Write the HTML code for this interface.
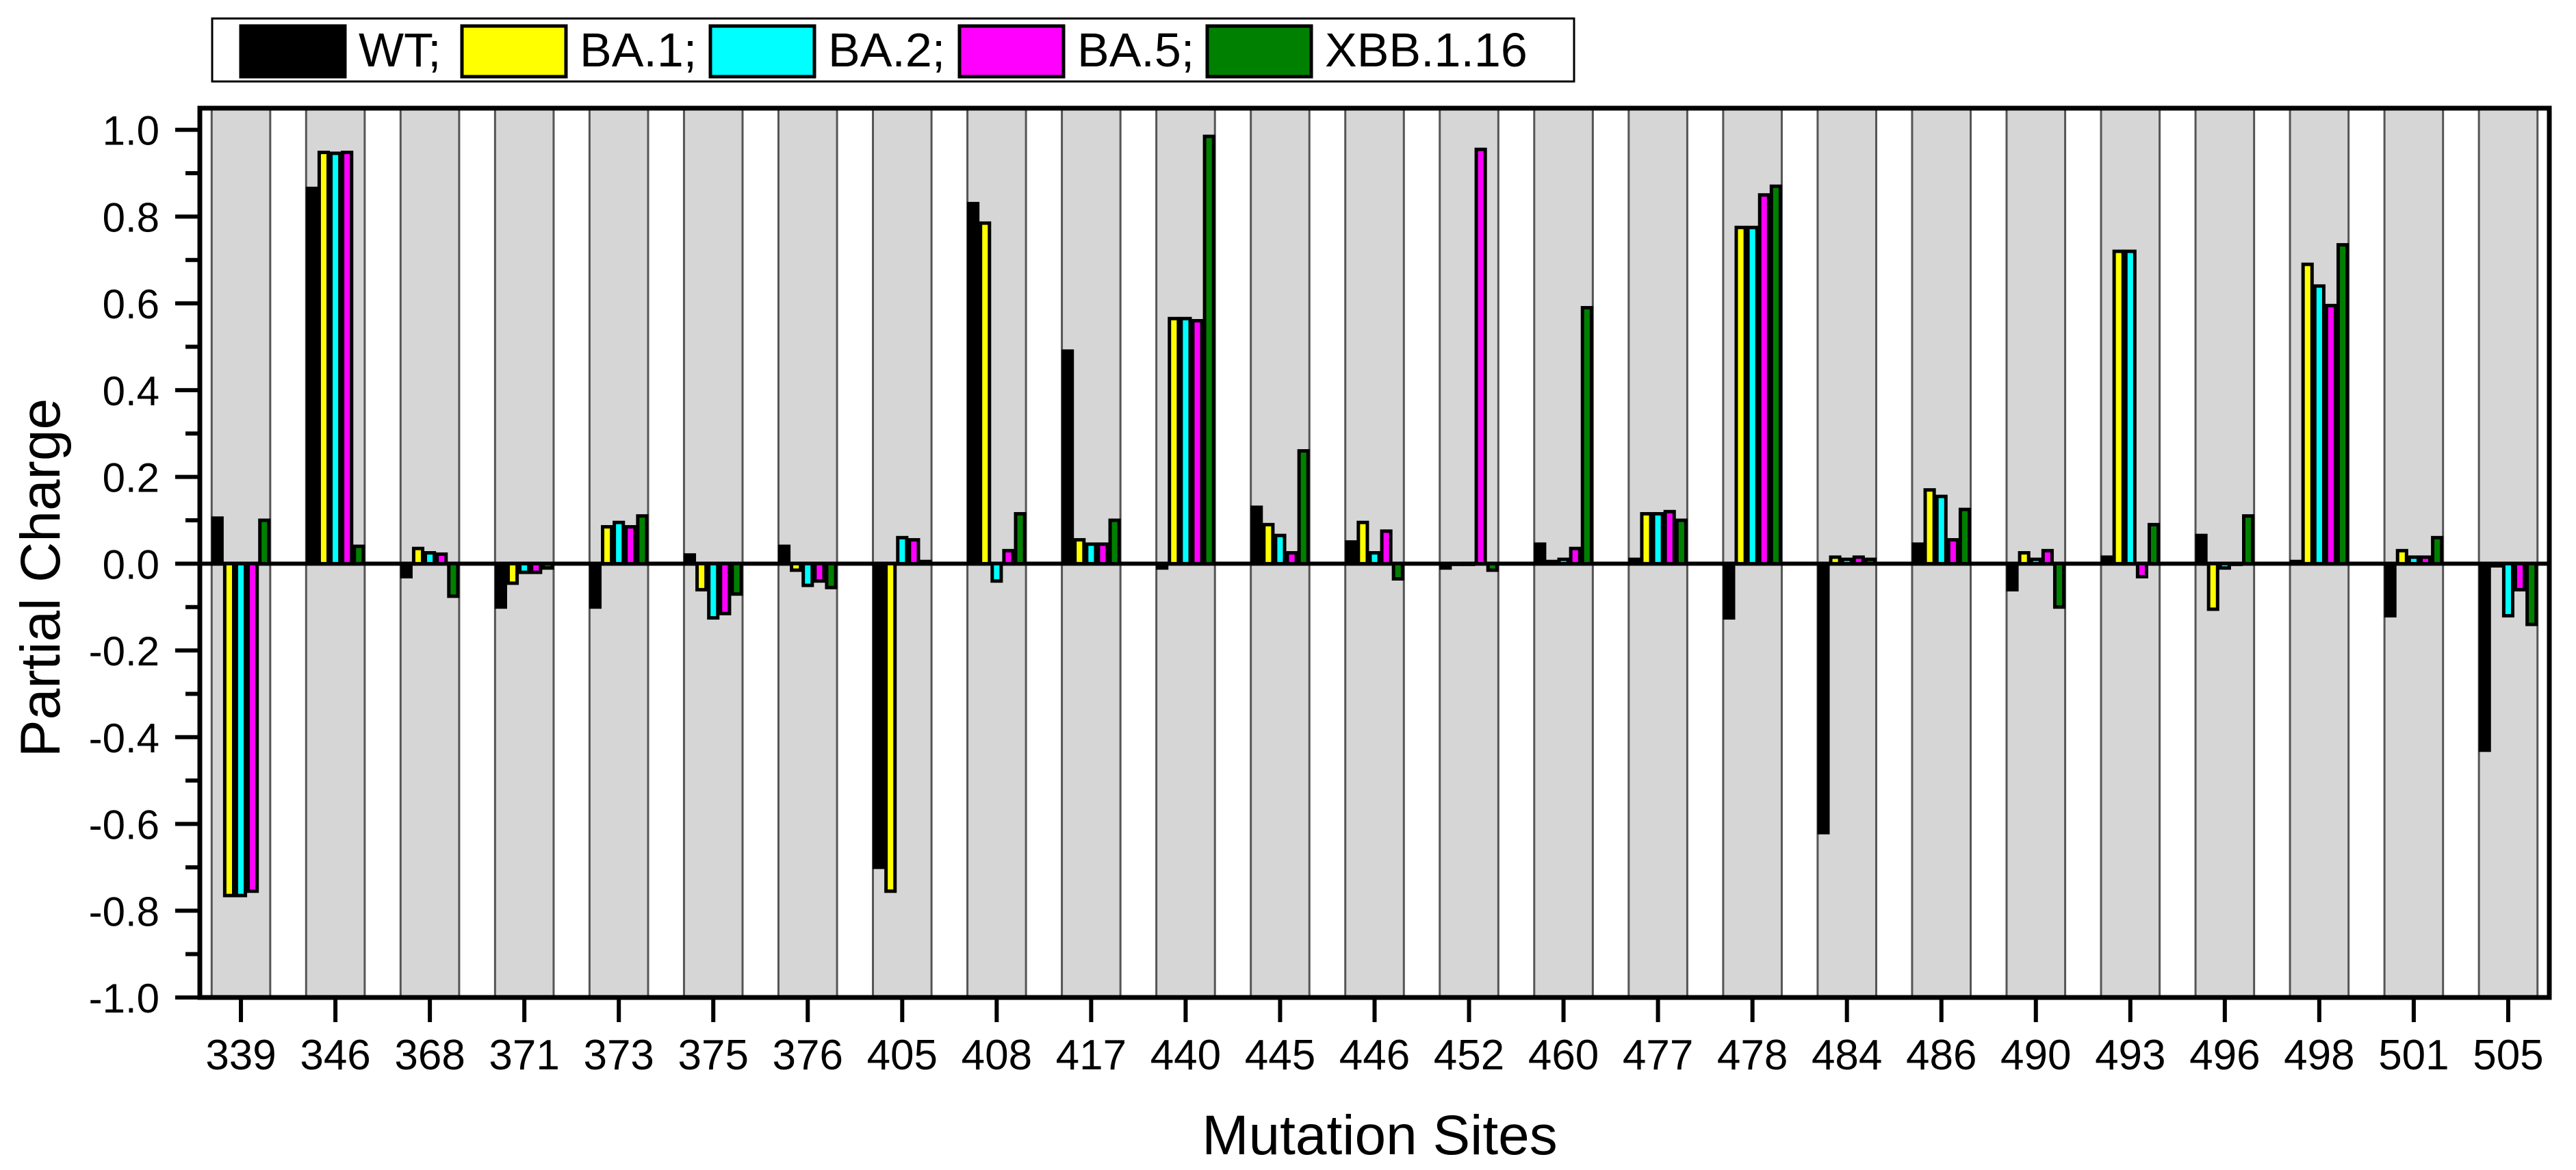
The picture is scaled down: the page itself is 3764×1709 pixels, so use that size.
<!DOCTYPE html>
<html><head><meta charset="utf-8">
<style>
html,body{margin:0;padding:0;background:#fff;}
svg{display:block;font-family:"Liberation Sans",Arial,sans-serif;}
</style></head>
<body>
<svg id="chart" width="3764" height="1709" viewBox="0 0 3764 1709" xmlns="http://www.w3.org/2000/svg"></svg>
<script>
const categories = ["339","346","368","371","373","375","376","405","408","417","440","445","446","452","460","477","478","484","486","490","493","496","498","501","505"];
const seriesNames = ["WT;","BA.1;","BA.2;","BA.5;","XBB.1.16"];
const wt   = [0.105,0.865,-0.03,-0.10,-0.10,0.02,0.04,-0.70,0.83,0.49,-0.01,0.13,0.05,-0.01,0.045,0.01,-0.125,-0.62,0.045,-0.06,0.015,0.065,0.005,-0.12,-0.43];
const ba1  = [-0.765,0.948,0.035,-0.045,0.085,-0.06,-0.015,-0.755,0.785,0.055,0.565,0.09,0.095,0.0,0.005,0.115,0.775,0.015,0.17,0.025,0.72,-0.105,0.69,0.03,-0.005];
const ba2  = [-0.765,0.946,0.025,-0.02,0.095,-0.125,-0.05,0.06,-0.04,0.045,0.565,0.065,0.025,0.0,0.01,0.115,0.775,0.01,0.155,0.01,0.72,-0.01,0.64,0.015,-0.12];
const ba5  = [-0.755,0.948,0.022,-0.02,0.085,-0.115,-0.04,0.055,0.03,0.045,0.56,0.025,0.075,0.955,0.035,0.12,0.85,0.015,0.055,0.03,-0.03,0.0,0.595,0.015,-0.06];
const xbb  = [0.10,0.04,-0.075,-0.01,0.11,-0.07,-0.055,0.005,0.115,0.10,0.985,0.26,-0.035,-0.015,0.59,0.10,0.87,0.01,0.125,-0.10,0.09,0.11,0.735,0.06,-0.14];
const yTicks = ["-1.0","-0.8","-0.6","-0.4","-0.2","0.0","0.2","0.4","0.6","0.8","1.0"];
const colors = ["#000000","#ffff00","#00ffff","#ff00ff","#008000"];

const NS="http://www.w3.org/2000/svg";
const svg=document.getElementById('chart');
function mk(tag,attrs,parent){const e=document.createElementNS(NS,tag);for(const k in attrs)e.setAttribute(k,attrs[k]);(parent||svg).appendChild(e);return e;}

const L=292,R=3725,T=158,B=1457;
const yMin=-1,yMax=1.05;
const n=categories.length;
const step=(R-L)/(n-0.13);
const x0=L+step*0.435;
function xc(i){return x0+i*step;}
function y(v){return B-(v-yMin)/(yMax-yMin)*(B-T);}
const bandW=step*0.62;

for(let i=0;i<n;i++){
  const r=mk('rect',{x:xc(i)-bandW/2,y:T,width:bandW,height:B-T,fill:'#d6d6d6',stroke:'#555',"stroke-width":3});
  
  
}
const zl=mk('line',{x1:L,x2:R,y1:y(0),y2:y(0),stroke:'#000',"stroke-width":6});



const series=[wt,ba1,ba2,ba5,xbb];
const bw=bandW/5;
for(let s=0;s<5;s++){
  for(let i=0;i<n;i++){
    const v=series[s][i];
    const bx=xc(i)-bandW/2+s*bw;
    const y1=Math.min(y(v),y(0)),h=Math.max(Math.abs(y(v)-y(0)),1);
    const r=mk('rect',{x:bx+2,y:y1,width:bw-4,height:h,fill:colors[s],stroke:'#000',"stroke-width":5});
    
    
  }
}
const fr=mk('rect',{x:L,y:T,width:R-L,height:B-T,fill:'none',stroke:'#000',"stroke-width":7});



for(let k=0;k<yTicks.length;k++){
  const v=parseFloat(yTicks[k]);
  const t=mk('line',{x1:L-36,x2:L,y1:y(v),y2:y(v),stroke:'#000',"stroke-width":6});
  
  
  const tx=mk('text',{x:233,y:y(v)+22,"text-anchor":"end","font-size":60,fill:'#000'});
  tx.textContent=yTicks[k];
  
  
  if(k<yTicks.length-1){
    const m=mk('line',{x1:L-21,x2:L,y1:y(v+0.1),y2:y(v+0.1),stroke:'#000',"stroke-width":6});
    
    
  }
}
for(let i=0;i<n;i++){
  const t=mk('line',{x1:xc(i),x2:xc(i),y1:B,y2:B+36,stroke:'#000',"stroke-width":6});
  
  
  const tx=mk('text',{x:xc(i),y:1562,"text-anchor":"middle","font-size":62,fill:'#000'});
  tx.textContent=categories[i];
  
  
}
const xt=mk('text',{x:2016,y:1686,"text-anchor":"middle","font-size":82,fill:'#000'});
xt.textContent='Mutation Sites';


const yt=mk('text',{x:0,y:0,"text-anchor":"middle","font-size":82,fill:'#000',transform:'translate(87,844) rotate(-90)'});
yt.textContent='Partial Charge';



const lg=mk('rect',{x:310,y:27,width:1990,height:92,fill:'#fff',stroke:'#000',"stroke-width":3});


const swX=[352,675,1038,1402,1764];
for(let s=0;s<5;s++){
  const r=mk('rect',{x:swX[s],y:38,width:152,height:74,fill:colors[s],stroke:'#000',"stroke-width":5});
  
  
  const t=mk('text',{x:swX[s]+172,y:97,"font-size":70,fill:'#000'});
  t.textContent=seriesNames[s];
  
  
}
</script>
</body></html>
